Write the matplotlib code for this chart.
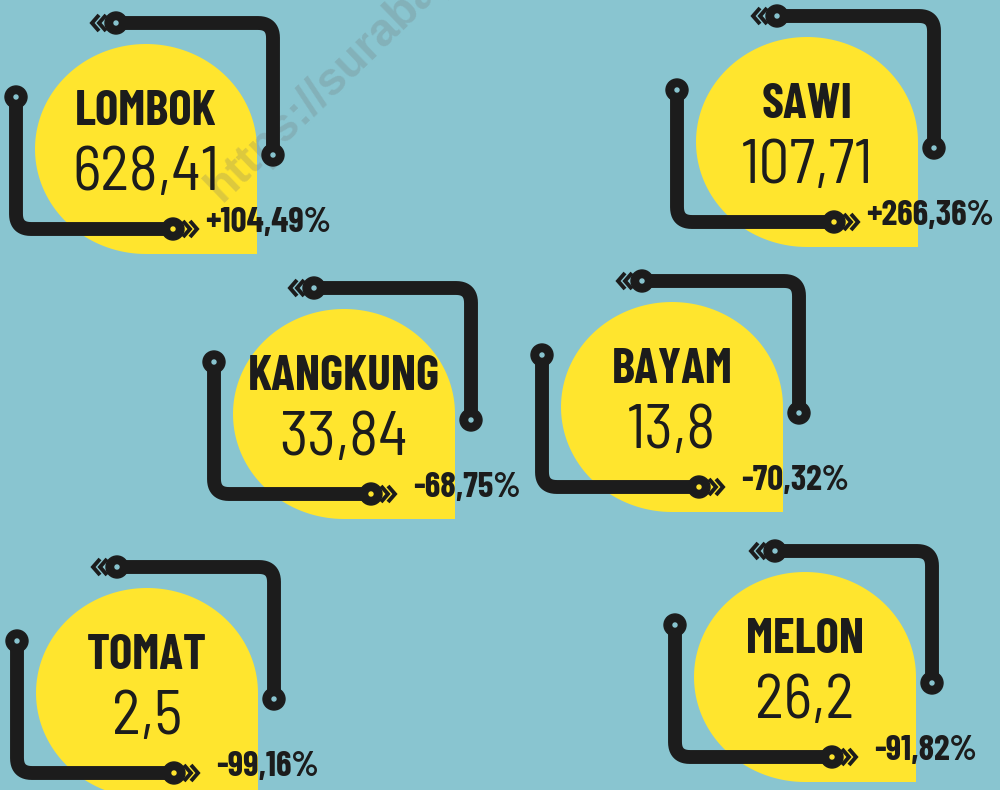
import numpy as np
import matplotlib
matplotlib.use('Agg')
import matplotlib.pyplot as plt
from matplotlib.patches import PathPatch, Circle
from matplotlib.path import Path

# Data
names = ['LOMBOK', 'SAWI', 'KANGKUNG', 'BAYAM', 'TOMAT', 'MELON']
values = [628.41, 107.71, 33.84, 13.8, 2.5, 26.2]
changes = [104.49, 266.36, -68.75, -70.32, -99.16, -91.82]

# layout: badge centres in pixel coords (y down)
centers = [(146, 149), (807, 142), (344, 414), (672, 407), (147, 693), (805, 677)]

BG = '#89C5D0'
YEL = '#FFE52E'
BLK = '#1C1C1C'
RX, RY = 111, 105

FONT = ['Barlow Condensed', 'DejaVu Sans']
FONT_NUM = ['Barlow Semi Condensed', 'DejaVu Sans']

fig = plt.figure(figsize=(10, 7.9), dpi=100)
fig.patch.set_facecolor(BG)
ax = fig.add_axes([0, 0, 1, 1])
ax.set_xlim(0, 1000)
ax.set_ylim(790, 0)
ax.axis('off')


def rounded(points, r=15, n=12):
    # polyline with rounded corners
    out = [points[0]]
    for i in range(1, len(points) - 1):
        p0, p1, p2 = map(np.array, (points[i - 1], points[i], points[i + 1]))
        d1 = (p1 - p0) / np.linalg.norm(p1 - p0)
        d2 = (p2 - p1) / np.linalg.norm(p2 - p1)
        a = p1 - d1 * r
        b = p1 + d2 * r
        t = np.linspace(0, 1, n)[:, None]
        curve = (1 - t) ** 2 * a + 2 * (1 - t) * t * p1 + t ** 2 * b
        out.extend(curve.tolist())
    out.append(points[-1])
    return np.array(out, dtype=float)


def dot(x, y, inner):
    ax.add_patch(Circle((x, y), 11, color=BLK, zorder=4))
    ax.add_patch(Circle((x, y), 2, color=inner, zorder=5))


def chevrons(x, y, direction):
    for tip in (17, 24):
        back = tip - 7
        xs = [x + direction * back, x + direction * tip, x + direction * back]
        ax.plot(xs, [y - 8, y, y + 8], color=BLK, lw=2.8, zorder=3,
                solid_joinstyle='miter', solid_capstyle='butt')


for name, val, chg, (cx, cy) in zip(names, values, changes, centers):
    # yellow drop: ellipse with square bottom-right corner
    th = np.linspace(np.pi / 2, 2 * np.pi, 120)
    arc = np.column_stack([cx + RX * np.cos(th), cy + RY * np.sin(th)])
    verts = np.vstack([[cx + RX, cy], [cx + RX, cy + RY], [cx, cy + RY], arc, [cx + RX, cy]])
    ax.add_patch(PathPatch(Path(verts), facecolor=YEL, edgecolor='none', zorder=1))

    # upper connector
    up = rounded([(cx - 30, cy - 126), (cx + 127, cy - 126), (cx + 127, cy + 6)])
    ax.plot(up[:, 0], up[:, 1], color=BLK, lw=10, solid_capstyle='butt', zorder=3)
    dot(cx - 30, cy - 126, BG)
    dot(cx + 127, cy + 6, BG)
    chevrons(cx - 30, cy - 126, -1)

    # lower connector
    lo = rounded([(cx - 130, cy - 52), (cx - 130, cy + 80), (cx + 27, cy + 80)])
    ax.plot(lo[:, 0], lo[:, 1], color=BLK, lw=10, solid_capstyle='butt', zorder=3)
    dot(cx - 130, cy - 52, BG)
    dot(cx + 27, cy + 80, YEL)
    chevrons(cx + 27, cy + 80, 1)

    ax.text(cx, cy - 24, name, ha='center', va='baseline', fontsize=35.5,
            fontweight='bold', color=BLK, family=FONT, zorder=6)
    ax.text(cx, cy + 41, f'{val}'.replace('.', ','), ha='center', va='baseline',
            fontsize=44, fontweight='normal', color=BLK, family=FONT_NUM, zorder=6)
    px = cx + 59 if chg > 0 else cx + 69
    ax.text(px, cy + 83, f'{chg:+.2f}'.replace('.', ',') + '%', ha='left', va='baseline',
            fontsize=25.5, fontweight='bold', color=BLK, family=FONT, zorder=6)

# watermark
ax.text(222, 203, 'https://surabaya.tribunnews.com', rotation=44, rotation_mode='anchor',
        ha='left', va='baseline', fontsize=33, fontweight='bold', color='#707070',
        alpha=0.24, family=['Liberation Sans', 'DejaVu Sans'], zorder=2)

fig.savefig('out.png', dpi=100, facecolor=BG)
